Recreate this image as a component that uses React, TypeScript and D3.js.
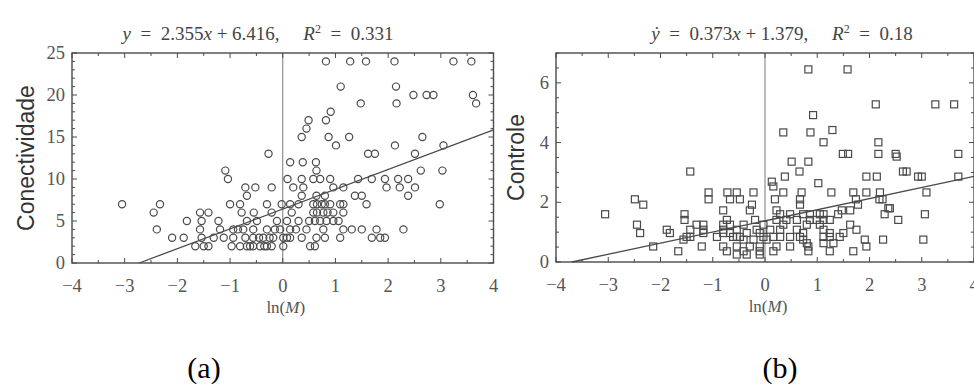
import React from "react";
import * as d3 from "d3";

// ---------- data ----------
const xTicks = [-4, -3, -2, -1, 0, 1, 2, 3, 4];
const conectTicks = [0, 5, 10, 15, 20, 25];
const controleTicks = [0, 2, 4, 6];

const conectX = [
  0.82, 1.28, 1.58, 2.12, 3.24, 3.58,
  1.10, 2.15,
  2.48, 2.73, 2.86, 3.61,
  1.48, 2.16, 3.67,
  0.91,
  0.49, 0.82,
  0.45,
  0.36, 0.87, 1.26, 2.65,
  1.01, 2.13, 3.05,
  -0.27, 1.62, 1.75, 2.51,
  0.14, 0.38, 0.63,
  -1.09, 0.64, 2.62, 3.03,
  -1.04, 0.09, 0.36, 0.58, 0.71, 0.90, 1.43, 1.69, 1.94, 2.19, 2.38,
  -0.71, -0.52, -0.21, 0.20, 0.39, 0.96, 1.15, 1.97, 2.22, 2.51,
  -0.68, 0.36, 0.64, 0.80, 1.37, 1.50, 2.38,
  -3.05, -2.33, -1.00, -0.81, -0.30, -0.02, 0.14, 0.30, 0.58, 0.74, 0.90, 1.09, 1.15, 1.59, 2.98, 0.80, 0.65,
  -2.45, -1.57, -1.41, -0.78, -0.21, 0.17, 0.58, 0.77, 0.96, 1.15, 0.65, 0.85, -0.55,
  -1.82, -1.54, -1.22, -0.68, -0.49, -0.11, 0.08, 0.61, 0.71, 0.83, 0.96, 1.06, 0.30, 0.50,
  -2.39, -1.57, -1.19, -0.94, -0.75, -0.56, -0.30, -0.05, 0.14, 0.45, 0.77, 1.15, 1.31, 1.50, 1.78, 2.29, -0.85, -0.15, 0.25,
  -2.10, -1.88, -1.54, -1.31, -1.12, -0.94, -0.71, -0.56, -0.37, -0.18, 0.01, 0.14, 0.36, 0.64, 0.80, 1.09, 1.69, 1.85, 1.94, -0.45, -0.25, 0.08,
  -1.66, -1.50, -1.41, -0.97, -0.81, -0.68, -0.56, -0.43, -0.30, -0.21, 0.01, 0.52, 0.61, -0.62, -0.35,
];
const conectY = [
  24, 24, 24, 24, 24, 24,
  21, 21,
  20, 20, 20, 20,
  19, 19, 19,
  18,
  17, 17,
  16,
  15, 15, 15, 15,
  14, 14, 14,
  13, 13, 13, 13,
  12, 12, 12,
  11, 11, 11, 11,
  10, 10, 10, 10, 10, 10, 10, 10, 10, 10, 10,
  9, 9, 9, 9, 9, 9, 9, 9, 9, 9,
  8, 8, 8, 8, 8, 8, 8,
  7, 7, 7, 7, 7, 7, 7, 7, 7, 7, 7, 7, 7, 7, 7, 7, 7,
  6, 6, 6, 6, 6, 6, 6, 6, 6, 6, 6, 6, 6,
  5, 5, 5, 5, 5, 5, 5, 5, 5, 5, 5, 5, 5, 5,
  4, 4, 4, 4, 4, 4, 4, 4, 4, 4, 4, 4, 4, 4, 4, 4, 4, 4, 4,
  3, 3, 3, 3, 3, 3, 3, 3, 3, 3, 3, 3, 3, 3, 3, 3, 3, 3, 3, 3, 3, 3,
  2, 2, 2, 2, 2, 2, 2, 2, 2, 2, 2, 2, 2, 2, 2,
];

const controleX = [
  0.83, 1.58,
  2.12, 3.26, 3.62,
  0.92,
  1.29,
  0.35, 0.87,
  1.12, 2.17,
  1.49, 1.59, 2.17, 2.50, 3.70,
  2.52,
  0.51, 0.83,
  -1.43, 0.66, 2.64, 2.71,
  0.38, 1.94, 2.14, 2.93, 3.00, 3.70,
  1.02,
  0.13,
  0.16,
  -1.08, -0.72, -0.54, -0.22, 0.35, 0.70, 1.27, 1.69, 1.94, 2.20, 3.09,
  -2.49, -1.08, -0.67, -0.48, 0.19, 0.67, 1.74, 2.19, 2.25,
  -2.33, -0.25, 0.67, 1.78,
  2.36, 2.39,
  -0.80, -0.29, 0.22, 1.47, 1.63,
  -3.06, -1.54, 0.29, 0.48, 0.73, 0.86, 1.05, 1.12, 1.40, 2.29, 3.06,
  -1.54, -0.73, -0.19, 0.22, 0.41, 0.61, 0.86, 0.99, 1.12, 1.24, 2.55,
  -2.45, -1.31, -1.18, -0.80, -0.67, -0.41, -0.03, 0.35, 0.80, 1.05, 1.63,
  -1.88, -1.43, -1.18, -0.80, -0.54, -0.16, 0.10, 0.29, 0.61, 1.12, 1.75,
  -2.39, -1.82, -1.18, -0.80, -0.67, -0.35, -0.10, 0.73, 1.24, 1.50,
  -1.50, -1.43, -0.92, -0.61, -0.54, -0.48, -0.03, 0.16, 0.29, 0.48, 0.67, 1.12, 1.24, 1.43,
  -1.56, -0.41, -0.22, 0.03, 0.73, 1.91, 2.26, 3.03,
  0.80, 1.12, 1.31,
  -2.14, -1.21, -0.80, -0.54, -0.29, -0.10, 0.22, 0.48, 0.83, 1.94,
  -1.66, -0.73, -0.41, -0.10, 0.16, 0.83, 1.24, 1.69,
  -0.54, -0.35, -0.10,
];
const controleY = [
  6.45, 6.45,
  5.28, 5.28, 5.28,
  4.92,
  4.42,
  4.34, 4.34,
  4.01, 4.01,
  3.62, 3.62, 3.62, 3.62, 3.62,
  3.53,
  3.36, 3.36,
  3.03, 3.03, 3.03, 3.03,
  2.86, 2.86, 2.86, 2.86, 2.86, 2.86,
  2.64,
  2.69,
  2.53,
  2.33, 2.33, 2.33, 2.33, 2.33, 2.33, 2.33, 2.33, 2.33, 2.33, 2.33,
  2.10, 2.10, 2.10, 2.10, 2.10, 2.10, 2.10, 2.10, 2.10,
  1.92, 1.92, 1.92, 1.92,
  1.80, 1.80,
  1.73, 1.73, 1.73, 1.73, 1.73,
  1.60, 1.60, 1.60, 1.60, 1.60, 1.60, 1.60, 1.60, 1.60, 1.60, 1.60,
  1.41, 1.41, 1.41, 1.41, 1.41, 1.41, 1.41, 1.41, 1.41, 1.41, 1.41,
  1.25, 1.25, 1.25, 1.25, 1.25, 1.25, 1.25, 1.25, 1.25, 1.25, 1.25,
  1.08, 1.08, 1.08, 1.08, 1.08, 1.08, 1.08, 1.08, 1.08, 1.08, 1.08,
  0.97, 0.97, 0.97, 0.97, 0.97, 0.97, 0.97, 0.97, 0.97, 0.97,
  0.84, 0.84, 0.84, 0.84, 0.84, 0.84, 0.84, 0.84, 0.84, 0.84, 0.84, 0.84, 0.84, 0.84,
  0.75, 0.75, 0.75, 0.75, 0.75, 0.75, 0.75, 0.75,
  0.63, 0.63, 0.63,
  0.52, 0.52, 0.52, 0.52, 0.52, 0.52, 0.52, 0.52, 0.52, 0.52,
  0.36, 0.36, 0.36, 0.36, 0.36, 0.36, 0.36, 0.36,
  0.25, 0.25, 0.25,
];

const conectFit = { slope: 2.355, intercept: 6.416 };
const controleFit = { slope: 0.373, intercept: 1.379 };

// ---------- drawing ----------
const INK = "#4a4a4a";
const SERIF = "'Liberation Serif', 'Times New Roman', serif";
const SANS = "'Liberation Sans', Arial, sans-serif";

type PanelProps = {
  left: number; right: number; top: number; bottom: number;
  yMax: number; yTicks: number[]; yMinorStep: number;
  xs: number[]; ys: number[]; fit: { slope: number; intercept: number };
  marker: "circle" | "square";
  yLabel: string; yLabelX: number;
  title: React.ReactNode; titleX: number;
};

function Panel(p: PanelProps) {
  const x = d3.scaleLinear().domain([-4, 4]).range([p.left, p.right]);
  const y = d3.scaleLinear().domain([0, p.yMax]).range([p.bottom, p.top]);
  const xMinor = d3.range(-4, 4.001, 0.5);
  const yMinor = d3.range(0, p.yMax + 0.001, p.yMinorStep);
  const x0 = (0 - p.fit.intercept) / p.fit.slope;
  const fitPts: [number, number][] = [
    [Math.max(-4, x0), p.fit.slope * Math.max(-4, x0) + p.fit.intercept],
    [4, p.fit.slope * 4 + p.fit.intercept],
  ];
  const line = d3.line<[number, number]>().x((d) => x(d[0])).y((d) => y(d[1]));
  const isMajX = (v: number) => Math.abs(v - Math.round(v)) < 1e-6;
  const isMajY = (v: number) => p.yTicks.some((t) => Math.abs(t - v) < 1e-6);
  const cy = (p.top + p.bottom) / 2;
  return (
    <g>
      <line x1={x(0)} x2={x(0)} y1={p.top} y2={p.bottom} stroke="#777" strokeWidth={1} />
      <rect x={p.left} y={p.top} width={p.right - p.left} height={p.bottom - p.top}
        fill="none" stroke={INK} strokeWidth={1.4} />
      {xMinor.map((v, i) => {
        const len = isMajX(v) ? 5 : 3;
        return (
          <g key={"xt" + i}>
            <line x1={x(v)} x2={x(v)} y1={p.bottom} y2={p.bottom - len} stroke={INK} strokeWidth={1} />
            <line x1={x(v)} x2={x(v)} y1={p.top} y2={p.top + len} stroke={INK} strokeWidth={1} />
          </g>
        );
      })}
      {yMinor.map((v, i) => {
        const len = isMajY(v) ? 5 : 3;
        return (
          <g key={"yt" + i}>
            <line x1={p.left} x2={p.left + len} y1={y(v)} y2={y(v)} stroke={INK} strokeWidth={1} />
            <line x1={p.right} x2={p.right - len} y1={y(v)} y2={y(v)} stroke={INK} strokeWidth={1} />
          </g>
        );
      })}
      {xTicks.map((v) => (
        <text key={"xl" + v} x={x(v)} y={p.bottom + 29} textAnchor="middle"
          fontFamily={SERIF} fontSize={18.5} fill="#555">
          {v < 0 ? "\u2212" + Math.abs(v) : String(v)}
        </text>
      ))}
      {p.yTicks.map((v) => (
        <text key={"yl" + v} x={p.left - 7} y={y(v) + 6} textAnchor="end"
          fontFamily={SERIF} fontSize={18.5} fill="#555">
          {v}
        </text>
      ))}
      <path d={line(fitPts) || ""} fill="none" stroke={INK} strokeWidth={1.3} />
      {p.xs.map((xv, i) =>
        p.marker === "circle" ? (
          <circle key={"pt" + i} cx={x(xv)} cy={y(p.ys[i])} r={3.6}
            fill="none" stroke={INK} strokeWidth={1.2} />
        ) : (
          <rect key={"pt" + i} x={x(xv) - 3.5} y={y(p.ys[i]) - 3.5} width={7} height={7}
            fill="none" stroke={INK} strokeWidth={1.2} />
        )
      )}
      <text x={x(0) + 3} y={p.bottom + 50} textAnchor="middle" fontFamily={SERIF} fontSize={17} fill="#555">
        ln(<tspan fontStyle="italic">M</tspan>)
      </text>
      <text transform={`translate(${p.yLabelX},${cy}) rotate(-90)`} textAnchor="middle"
        fontFamily={SANS} fontSize={23} fill="#333">
        {p.yLabel}
      </text>
      <text x={p.titleX} y={40} textAnchor="middle" fontFamily={SERIF} fontSize={19} fill="#444"
        style={{ whiteSpace: "pre" }}>
        {p.title}
      </text>
    </g>
  );
}

export default function App() {
  return (
    <div style={{ position: "absolute", left: 0, top: 0 }}>
      <svg width={974} height={385} style={{ display: "block", background: "#fff" }}>
        <Panel left={72} right={493.5} top={53} bottom={263} yMax={25} yTicks={conectTicks} yMinorStep={1}
          xs={conectX} ys={conectY} fit={conectFit} marker="circle"
          yLabel="Conectividade" yLabelX={34}
          title={<><tspan fontStyle="italic">y</tspan>{"  =  2.355"}<tspan fontStyle="italic">x</tspan>{" + 6.416,     "}<tspan fontStyle="italic">R</tspan><tspan dy={-7} fontSize={12}>2</tspan><tspan dy={7}>{"  =  0.331"}</tspan></>}
          titleX={258} />
        <Panel left={556} right={974} top={53} bottom={262} yMax={7} yTicks={controleTicks} yMinorStep={0.5}
          xs={controleX} ys={controleY} fit={controleFit} marker="square"
          yLabel="Controle" yLabelX={524}
          title={<><tspan fontStyle="italic">{"\u1E8F"}</tspan>{"  =  0.373"}<tspan fontStyle="italic">x</tspan>{" + 1.379,     "}<tspan fontStyle="italic">R</tspan><tspan dy={-7} fontSize={12}>2</tspan><tspan dy={7}>{"  =  0.18"}</tspan></>}
          titleX={782} />
        <text x={204} y={378} textAnchor="middle" fontFamily={SERIF} fontSize={30} fill="#000">(a)</text>
        <text x={780} y={378} textAnchor="middle" fontFamily={SERIF} fontSize={30} fill="#000">(b)</text>
      </svg>
    </div>
  );
}
